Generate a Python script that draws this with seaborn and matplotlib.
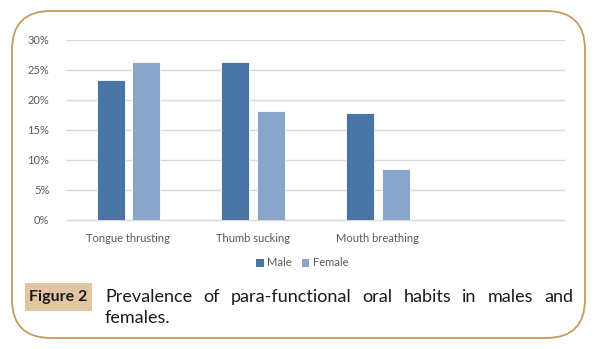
import matplotlib
matplotlib.use("Agg")
import matplotlib.pyplot as plt
import seaborn as sns
import pandas as pd
from matplotlib.patches import FancyBboxPatch, Rectangle

categories = ["Tongue thrusting", "Thumb sucking", "Mouth breathing"]
male = [0.233, 0.263, 0.179]
female = [0.263, 0.181, 0.085]
series = ["Male", "Female"]
colors = ["#4A74A6", "#87A6CA"]
yticks = [0, 0.05, 0.10, 0.15, 0.20, 0.25, 0.30]
ytick_labels = ["0%", "5%", "10%", "15%", "20%", "25%", "30%"]
caption_label = "Figure 2"
caption_line1 = "Prevalence of para-functional oral habits in males and"
caption_line2 = "females."

df = pd.DataFrame({
    "habit": categories * 2,
    "sex": ["Male"] * 3 + ["Female"] * 3,
    "value": male + female,
})

sns.set_theme(style="white")
plt.rcParams["font.family"] = ["Lato", "DejaVu Sans"]

W, H = 596, 349
fig = plt.figure(figsize=(W / 100, H / 100), dpi=100)
fig.patch.set_facecolor("white")

# outer rounded frame
frame = FancyBboxPatch((12 / W, 11 / H), (585 - 12) / W, (338 - 11) / H,
                       boxstyle="round,pad=0,rounding_size=0.065",
                       transform=fig.transFigure, facecolor="none",
                       edgecolor="#C79B5E", linewidth=1.3, zorder=-1,
                       mutation_aspect=W / H)
fig.patches.append(frame)

ax = fig.add_axes([66 / W, 1 - 220 / H, (565 - 66) / W, 180 / H])
ax.set_facecolor("none")
sns.barplot(data=df, x="habit", y="value", hue="sex", order=categories,
            hue_order=series, palette=colors, saturation=1, width=0.568,
            gap=0.21, ax=ax, legend=False, edgecolor="white", linewidth=0.6,
            zorder=3)
ax.set_xlim(-0.5, 3.5)
ax.set_ylim(0, 0.30)
ax.set_yticks(yticks)
ax.set_yticklabels(ytick_labels)
ax.set_xlabel("")
ax.set_ylabel("")
ax.yaxis.grid(True, color="#D9D9D9", linewidth=1.0, zorder=0)
ax.set_axisbelow(True)
for s in ["top", "right", "left"]:
    ax.spines[s].set_visible(False)
ax.spines["bottom"].set_color("#D9D9D9")
ax.spines["bottom"].set_linewidth(1.0)
ax.tick_params(axis="both", length=0, labelsize=8, labelcolor="#595959")
ax.tick_params(axis="x", pad=9)
ax.tick_params(axis="y", pad=12)

# legend
handles = [Rectangle((0, 0), 1, 1, facecolor=c, edgecolor="none") for c in colors]
fig.legend(handles, series, loc="center", bbox_to_anchor=(302 / W, 1 - 263 / H),
           ncol=2, frameon=False, fontsize=8, handlelength=0.7, handleheight=0.7,
           handletextpad=0.3, columnspacing=0.9, labelcolor="#595959")

# caption label box
fig.patches.append(Rectangle((25 / W, 1 - 311 / H), 67 / W, 28 / H,
                             transform=fig.transFigure, facecolor="#E2C6A4",
                             edgecolor="none", zorder=-1))
fig.text(58.5 / W, 1 - 297 / H, caption_label, ha="center", va="center",
         fontsize=11.5, fontweight="bold", color="#1A1A1A")

# justified first caption line
fig.canvas.draw()
renderer = fig.canvas.get_renderer()
words = caption_line1.split(" ")
x0, x1 = 105, 573
y1 = 1 - 297 / H
txts = []
widths = []
for w in words:
    t = fig.text(0, y1, w, fontsize=13, color="#1A1A1A", va="center", ha="left")
    widths.append(t.get_window_extent(renderer).width)
    txts.append(t)
space = (x1 - x0 - sum(widths)) / (len(words) - 1)
x = x0
for t, wd in zip(txts, widths):
    t.set_x(x / W)
    x += wd + space
fig.text(x0 / W, 1 - 318 / H, caption_line2, fontsize=13, color="#1A1A1A",
         va="center", ha="left")

fig.savefig("out.png", dpi=100, facecolor="white")
